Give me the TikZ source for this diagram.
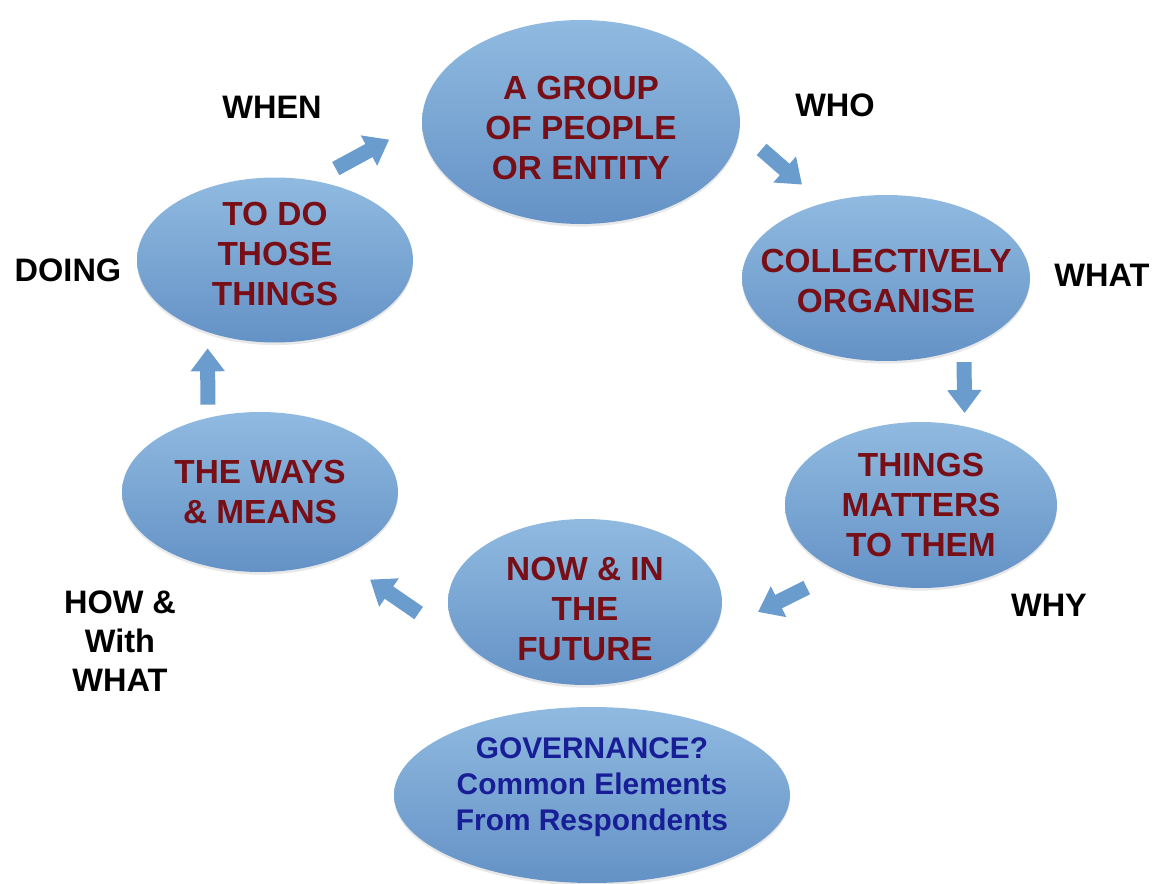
\documentclass[tikz,border=0pt]{standalone}
\usepackage{fontspec}
\setmainfont{Liberation Sans}
\usepackage{tikz}
\usetikzlibrary{shapes.geometric,arrows.meta,shadows}
\definecolor{blobtop}{RGB}{144,186,224}
\definecolor{blobbottom}{RGB}{100,146,198}
\definecolor{wordred}{RGB}{120,14,22}
\definecolor{wordblue}{RGB}{24,30,150}
\definecolor{flowblue}{RGB}{106,156,206}

\begin{document}
\begin{tikzpicture}
	[x=0.02cm, y=-0.02cm,
	blob/.style	= {ellipse, draw=none, inner sep=0pt, top color=blobtop, bottom color=blobbottom,
			   drop shadow={shadow xshift=0pt, shadow yshift=-1.5pt, opacity=0.18}},
	redword/.style	= {text=wordred, align=center, inner sep=0pt, font=\bfseries\fontsize{19}{23}\selectfont},
	blueword/.style	= {text=wordblue, align=center, inner sep=0pt, font=\bfseries\fontsize{17}{20.5}\selectfont},
	cue/.style	= {align=center, inner sep=0pt, font=\bfseries\fontsize{18.5}{22}\selectfont},
	flow/.style	= {line width=0.3cm, draw=flowblue, -{Triangle[width=0.66cm, length=0.46cm]}}]

	\useasboundingbox (0, 0) rectangle (1159, 884);

	% the cycle
	\node at (581, 122)	[blob, minimum width=6.36cm, minimum height=4.08cm,
				 label={[redword, yshift=-0.12cm]center:{A GROUP\\OF PEOPLE\\OR ENTITY}}]	(group)		{};
	\node at (886, 278)	[blob, minimum width=5.76cm, minimum height=3.32cm,
				 label={[redword, yshift=-0.06cm]center:{COLLECTIVELY\\ORGANISE}}]		(collect)	{};
	\node at (921, 505)	[blob, minimum width=5.44cm, minimum height=3.32cm,
				 label={[redword]center:{THINGS\\MATTERS\\TO THEM}}]			(matters)	{};
	\node at (585, 602)	[blob, minimum width=5.48cm, minimum height=3.32cm,
				 label={[redword, yshift=-0.14cm]center:{NOW \& IN\\THE\\FUTURE}}]		(future)	{};
	\node at (260, 492)	[blob, minimum width=5.52cm, minimum height=3.2cm,
				 label={[redword]center:{THE WAYS\\\& MEANS}}]				(ways)		{};
	\node at (275, 260)	[blob, minimum width=5.52cm, minimum height=3.3cm,
				 label={[redword, yshift=0.12cm]center:{TO DO\\THOSE\\THINGS}}]		(todo)		{};

	% summary
	\node at (592, 795)	[blob, minimum width=7.92cm, minimum height=3.52cm,
				 label={[blueword, yshift=0.16cm]center:{GOVERNANCE?\\Common Elements\\From Respondents}}]	(gov)	{};

	% questions
	\node at (272, 107)	[cue]	(when)		{WHEN};
	\node at (835, 105)	[cue]	(who)		{WHO};
	\node at (1102, 275)	[cue]	(what)		{WHAT};
	\node at (1049, 605)	[cue]	(why)		{WHY};
	\node at (68, 270)	[cue]	(doing)		{DOING};
	\node at (120, 641)	[cue]	(how)		{HOW \&\\With\\WHAT};

	\draw [flow, shorten <=0.5cm, shorten >=0.74cm] (todo.64) -- (group.west);
	\draw [flow, shorten <=0.58cm, shorten >=0.56cm] (group.-3) -- (collect.130);
	\draw [flow, shorten <=0.28cm, shorten >=0.26cm] (collect.-42) -- (matters.61);
	\draw [flow, shorten <=0.72cm, shorten >=1.06cm] (matters.219) -- (future.-15);
	\draw [flow, shorten <=1.35cm, shorten >=0.76cm] (future.204) -- (ways.-40);
	\draw [flow, shorten <=0.26cm, shorten >=0.32cm] (ways.125) -- (todo.227);

\end{tikzpicture}
\end{document}
